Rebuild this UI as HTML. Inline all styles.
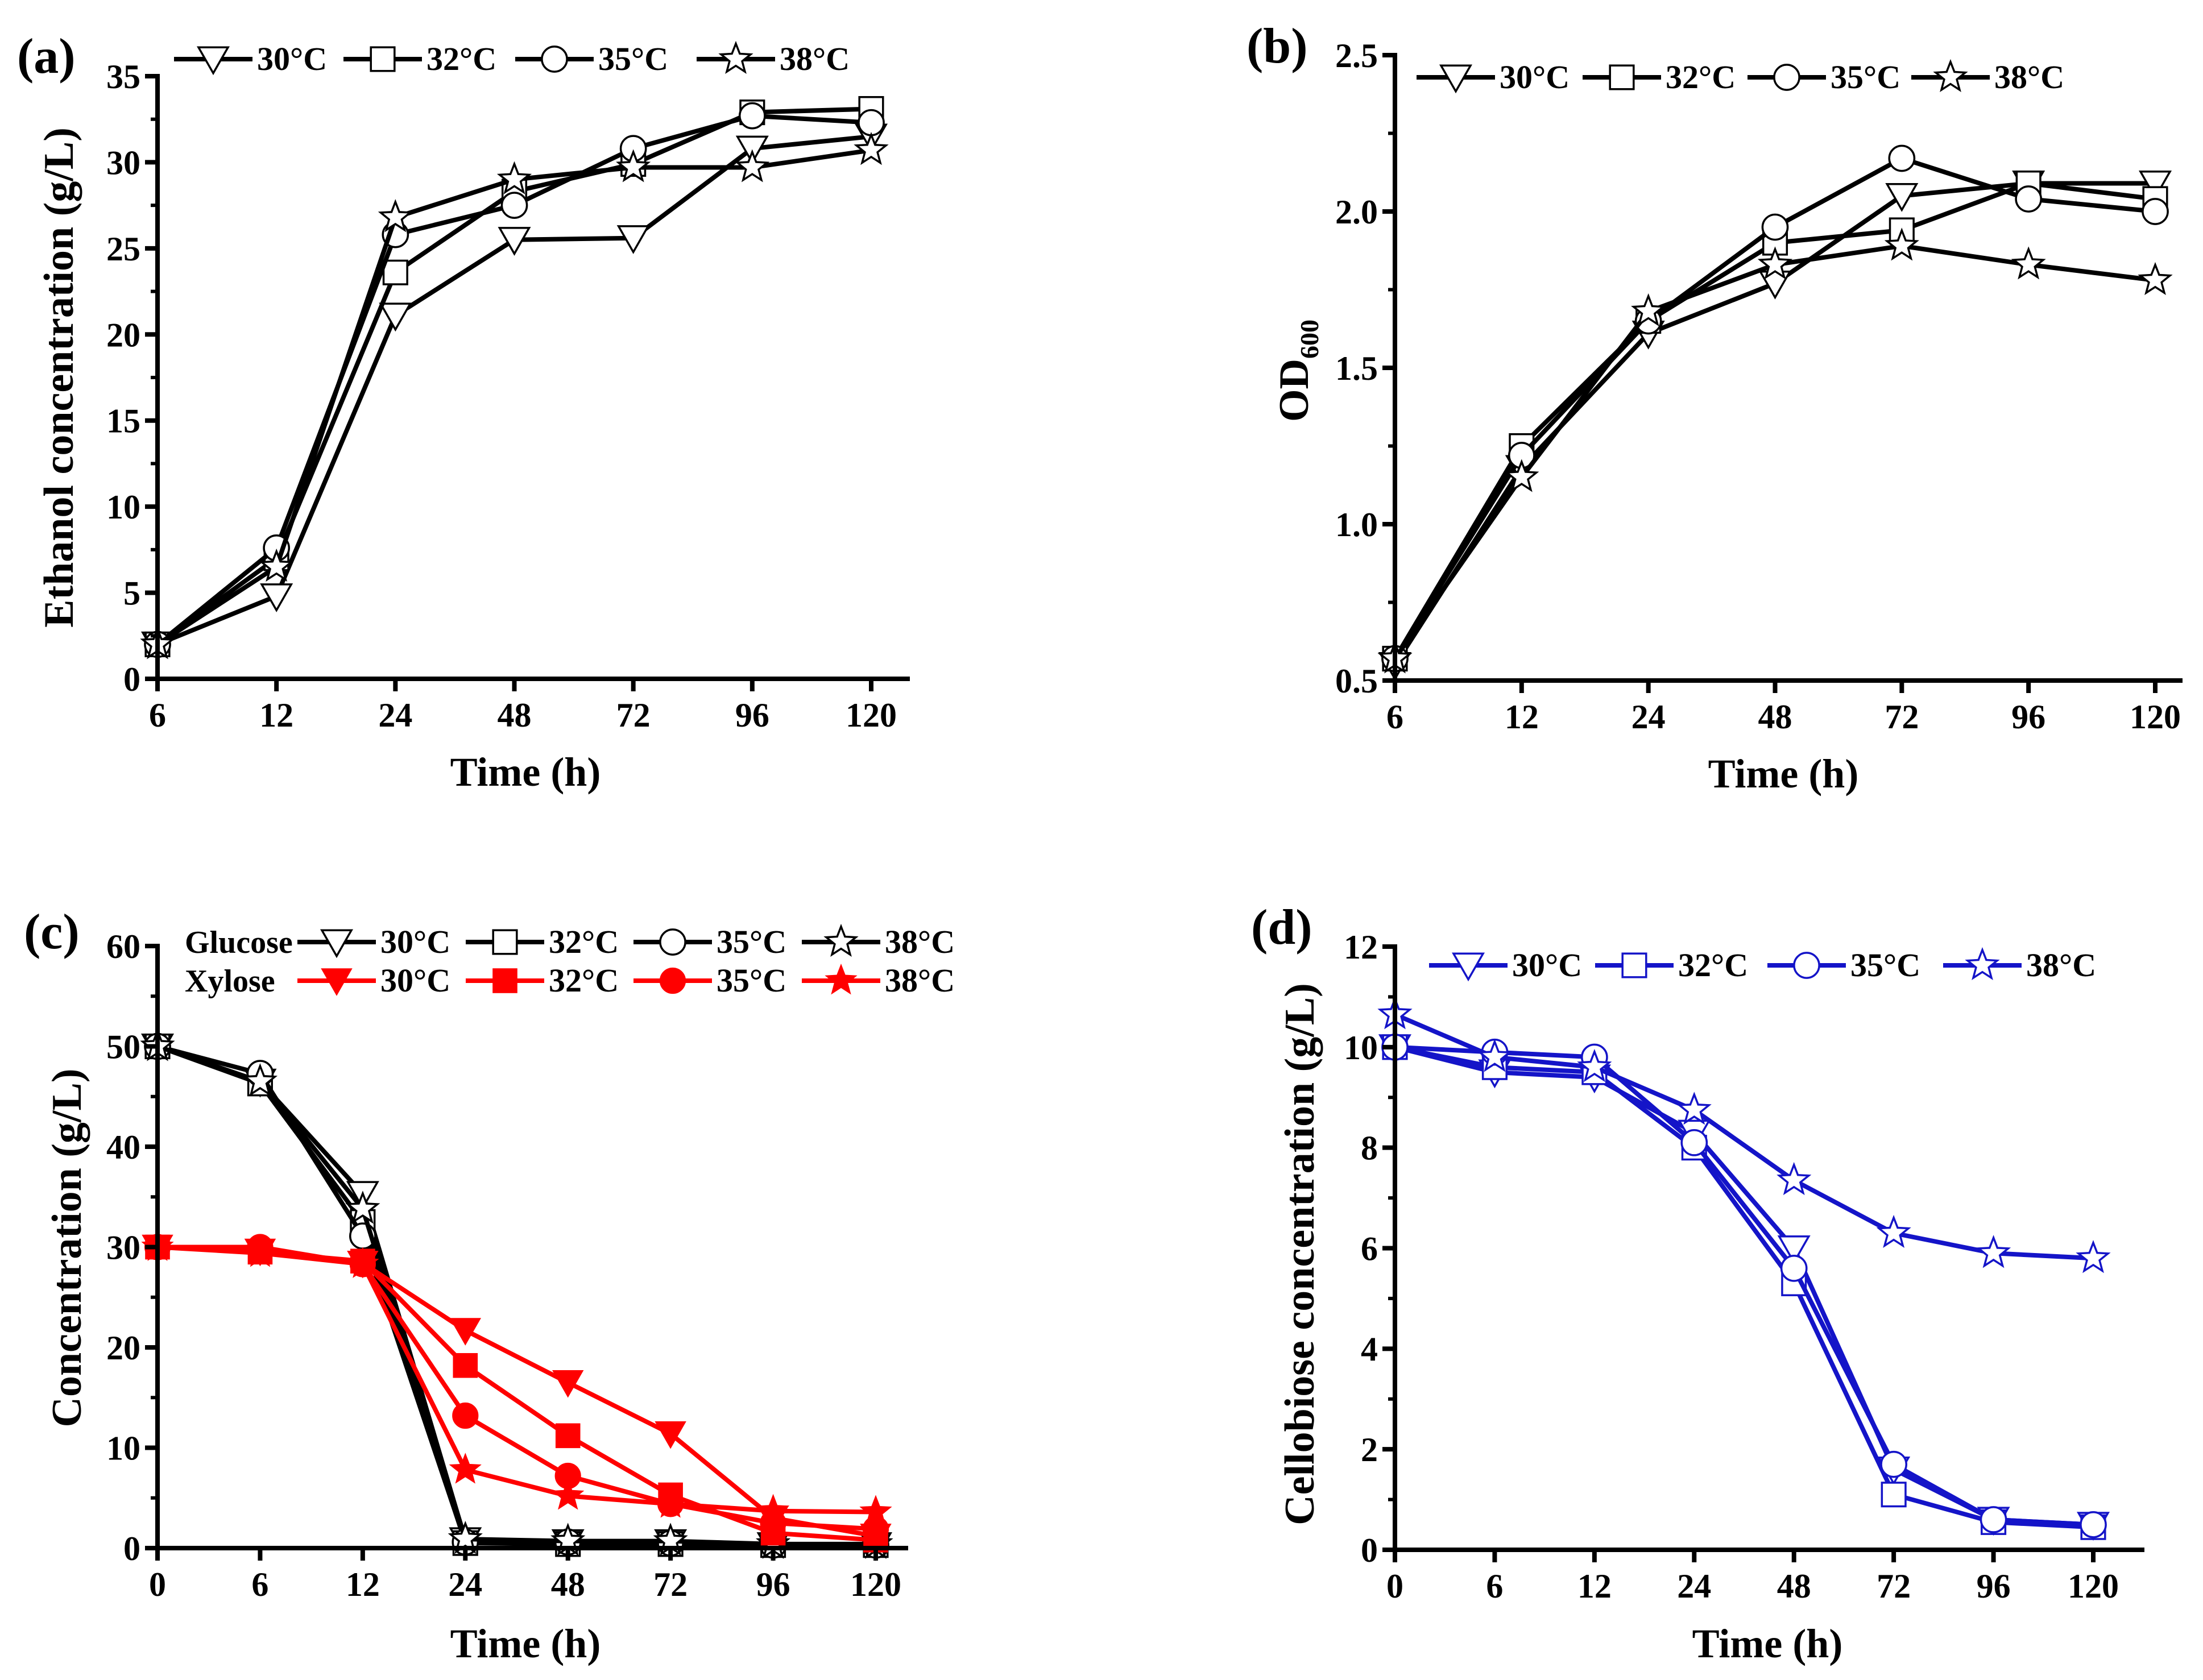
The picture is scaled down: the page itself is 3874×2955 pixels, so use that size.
<!DOCTYPE html>
<html><head><meta charset="utf-8">
<style>
html,body{margin:0;padding:0;background:#fff;}
svg{display:block;}
text{font-family:"Liberation Serif",serif;font-weight:bold;}
</style></head>
<body>
<svg id="fig" width="3874" height="2955" viewBox="0 0 3874 2955" xmlns="http://www.w3.org/2000/svg"></svg>
<script>
// ---------- data ----------
const catsA = ["6","12","24","48","72","96","120"];
const catsC = ["0","6","12","24","48","72","96","120"];
const tempLabels = ["30°C","32°C","35°C","38°C"];
const markerKinds = ["tri","sq","circ","star"];

const ethanol30 = [2.0, 4.8, 21.1, 25.5, 25.6, 30.8, 31.5];
const ethanol32 = [2.0, 7.0, 23.6, 28.3, 29.9, 32.9, 33.1];
const ethanol35 = [2.0, 7.6, 25.8, 27.5, 30.8, 32.7, 32.3];
const ethanol38 = [2.0, 6.5, 26.8, 29.0, 29.7, 29.7, 30.7];
const ticksA = [0,5,10,15,20,25,30,35];

const od30 = [0.55, 1.18, 1.61, 1.77, 2.05, 2.09, 2.09];
const od32 = [0.57, 1.25, 1.65, 1.90, 1.94, 2.09, 2.04];
const od35 = [0.57, 1.22, 1.65, 1.95, 2.17, 2.04, 2.00];
const od38 = [0.57, 1.15, 1.68, 1.83, 1.89, 1.83, 1.78];
const ticksB = ["0.5","1.0","1.5","2.0","2.5"];

const glu30 = [50, 46.5, 35.3, 0.8, 0.6, 0.6, 0.3, 0.3];
const glu32 = [50, 46.3, 32.5, 0.5, 0.4, 0.4, 0.3, 0.3];
const glu35 = [50, 47.3, 31.1, 0.6, 0.6, 0.5, 0.3, 0.3];
const glu38 = [50, 46.5, 33.8, 0.9, 0.7, 0.7, 0.4, 0.4];
const xyl30 = [30, 29.6, 28.4, 21.7, 16.5, 11.4, 3.0, 1.2];
const xyl32 = [30, 29.5, 28.6, 18.2, 11.2, 5.3, 1.5, 0.8];
const xyl35 = [30, 30.0, 28.3, 13.2, 7.2, 4.4, 2.5, 1.9];
const xyl38 = [30, 29.4, 28.3, 7.8, 5.2, 4.4, 3.7, 3.6];
const ticksC = [0,10,20,30,40,50,60];

const cel30 = [10.0, 9.5, 9.4, 8.3, 6.0, 1.6, 0.6, 0.5];
const cel32 = [10.0, 9.6, 9.5, 8.0, 5.3, 1.1, 0.55, 0.45];
const cel35 = [10.0, 9.9, 9.8, 8.1, 5.6, 1.7, 0.6, 0.5];
const cel38 = [10.65, 9.8, 9.6, 8.75, 7.35, 6.3, 5.9, 5.8];
const ticksD = [0,2,4,6,8,10,12];

// ---------- drawing ----------
const NS="http://www.w3.org/2000/svg";
const svg=document.getElementById('fig');
function mk(tag,attrs,parent){const e=document.createElementNS(NS,tag);for(const k in attrs)e.setAttribute(k,attrs[k]);(parent||svg).appendChild(e);return e;}

function marker(g,kind,x,y,color,filled,r){
  const fill=filled?color:'#fff';
  const sw=filled?2:3.5;
  let e;
  if(kind==='tri'){
    e=mk('polygon',{points:`${x-r},${y-r*0.8} ${x+r},${y-r*0.8} ${x},${y+r*0.95}`,fill:fill,stroke:color,'stroke-width':sw},g);
  }else if(kind==='sq'){
    e=mk('rect',{x:x-r*0.8,y:y-r*0.8,width:r*1.6,height:r*1.6,fill:fill,stroke:color,'stroke-width':sw},g);
  }else if(kind==='circ'){
    e=mk('circle',{cx:x,cy:y,r:r*0.85,fill:fill,stroke:color,'stroke-width':sw},g);
  }else{
    let p=[];for(let i=0;i<10;i++){const a=-Math.PI/2+i*Math.PI/5;const rr=i%2?r*0.45:r*1.05;p.push((x+rr*Math.cos(a)).toFixed(1)+','+(y+rr*Math.sin(a)).toFixed(1));}
    e=mk('polygon',{points:p.join(' '),fill:fill,stroke:color,'stroke-width':sw},g);
  }
  return e;
}

function panel(o){
  const g=mk('g',{});
  
  
  const n=o.cats.length;
  const xs=i=>o.x0+(o.x1-o.x0)*i/(n-1);
  const ys=v=>o.yb-(v-o.ymin)/(o.ymax-o.ymin)*(o.yb-o.yt);
  o.series.forEach((s,si)=>{
    const sg=mk('g',{},g);
    
    
    const pts=s.vals.map((v,i)=>xs(i).toFixed(1)+','+ys(v).toFixed(1)).join(' ');
    const pl=mk('polyline',{points:pts,fill:'none',stroke:s.color,'stroke-width':8,'stroke-linejoin':'round'},sg);
    
    
    s.vals.forEach((v,i)=>{
      const m=marker(sg,s.kind,xs(i),ys(v),s.color,s.filled,26);
      
      
    });
  });
  const ax=mk('g',{},g);
  
  
  mk('line',{x1:o.x0,y1:o.yb+4,x2:o.x0,y2:o.yt-4,stroke:'#000','stroke-width':8},ax);
  mk('line',{x1:o.x0-22,y1:o.yb,x2:o.xr,y2:o.yb,stroke:'#000','stroke-width':8},ax);
  o.cats.forEach((c,i)=>{
    mk('line',{x1:xs(i),y1:o.yb,x2:xs(i),y2:o.yb+22,stroke:'#000','stroke-width':8},ax);
    const t=mk('text',{x:xs(i),y:o.yb+84,'font-size':60,'text-anchor':'middle'},ax);
    t.textContent=c;
    
    
  });
  o.yticks.forEach((tv,i)=>{
    const v=parseFloat(tv);const y=ys(v);
    mk('line',{x1:o.x0-22,y1:y,x2:o.x0,y2:y,stroke:'#000','stroke-width':8},ax);
    if(i<o.yticks.length-1){const ym=ys(v+(parseFloat(o.yticks[1])-parseFloat(o.yticks[0]))/2);
      mk('line',{x1:o.x0-12,y1:ym,x2:o.x0,y2:ym,stroke:'#000','stroke-width':6},ax);}
    const t=mk('text',{x:o.x0-30,y:y+21,'font-size':60,'text-anchor':'end'},ax);
    t.textContent=tv;
    
    
  });
  const xt=mk('text',{x:o.xtX,y:o.xtY,'font-size':72,'text-anchor':'middle'},g);
  xt.textContent='Time (h)';
  
  
  const yt=mk('text',{x:0,y:0,'font-size':74,'text-anchor':'middle',transform:`translate(${o.ytX},${o.ytY}) rotate(-90)`},g);
  yt.innerHTML=o.ytitle;
  
  
  const pl=mk('text',{x:o.plX,y:o.plY,'font-size':88},g);
  pl.textContent=o.plabel;
  
  
  o.legend.forEach(L=>{
    const lg=mk('g',{},g);
    
    
    mk('line',{x1:L.l0,y1:L.y,x2:L.l1,y2:L.y,stroke:L.color,'stroke-width':8},lg);
    marker(lg,L.kind,(L.l0+L.l1)/2,L.y,L.color,L.filled,26);
    const t=mk('text',{x:L.l1+8,y:L.y+19,'font-size':58},lg);
    t.textContent=L.text;
  });
  if(o.extra)o.extra.forEach(E=>{const t=mk('text',{x:E.x,y:E.y,'font-size':56},g);t.textContent=E.t;
    });
}

function legend4(y,starts,color,filled){
  return starts.map((l0,i)=>({l0:l0,l1:l0+138,y:y,color:color,filled:filled,kind:markerKinds[i],text:tempLabels[i]}));
}

const K='#000',R='#ff0000',B='#1414c8';
panel({name:'panel-a-ethanol',cats:catsA,x0:277,x1:1532,xr:1600,yb:1194,yt:134,ymin:0,ymax:35,
  yticks:ticksA.map(String),
  series:[ethanol30,ethanol32,ethanol35,ethanol38].map((v,i)=>({name:'ethanol-'+tempLabels[i].slice(0,2)+'c',vals:v,color:K,filled:false,kind:markerKinds[i]})),
  xtX:924,xtY:1382,ytX:128,ytY:664,ytitle:'Ethanol concentration (g/L)',plX:30,plY:128,plabel:'(a)',
  legend:legend4(104,[306,604,906,1225],K,false)});

panel({name:'panel-b-od600',cats:catsA,x0:2453,x1:3790,xr:3838,yb:1197,yt:97,ymin:0.5,ymax:2.5,
  yticks:ticksB,
  series:[od30,od32,od35,od38].map((v,i)=>({name:'od-'+tempLabels[i].slice(0,2)+'c',vals:v,color:K,filled:false,kind:markerKinds[i]})),
  xtX:3136,xtY:1385,ytX:2300,ytY:652,ytitle:'OD<tspan font-size="46" dy="18">600</tspan>',plX:2192,plY:110,plabel:'(b)',
  legend:legend4(136,[2491,2783,3073,3361],K,false)});

panel({name:'panel-c-sugars',cats:catsC,x0:277,x1:1540,xr:1597,yb:2723,yt:1664,ymin:0,ymax:60,
  yticks:ticksC.map(String),
  series:[glu30,glu32,glu35,glu38].map((v,i)=>({name:'glucose-'+tempLabels[i].slice(0,2)+'c',vals:v,color:K,filled:false,kind:markerKinds[i]}))
    .concat([xyl30,xyl32,xyl35,xyl38].map((v,i)=>({name:'xylose-'+tempLabels[i].slice(0,2)+'c',vals:v,color:R,filled:true,kind:markerKinds[i]}))),
  xtX:924,xtY:2915,ytX:142,ytY:2195,ytitle:'Concentration (g/L)',plX:42,plY:1668,plabel:'(c)',
  legend:legend4(1657,[523,819,1114,1410],K,false).concat(legend4(1725,[523,819,1114,1410],R,true)),
  extra:[{x:325,y:1676,t:'Glucose'},{x:325,y:1744,t:'Xylose'}]});

panel({name:'panel-d-cellobiose',cats:catsC,x0:2453,x1:3681,xr:3771,yb:2726,yt:1665,ymin:0,ymax:12,
  yticks:ticksD.map(String),
  series:[cel30,cel32,cel35,cel38].map((v,i)=>({name:'cellobiose-'+tempLabels[i].slice(0,2)+'c',vals:v,color:B,filled:false,kind:markerKinds[i]})),
  xtX:3108,xtY:2915,ytX:2310,ytY:2206,ytitle:'Cellobiose concentration (g/L)',plX:2200,plY:1660,plabel:'(d)',
  legend:legend4(1698,[2513,2805,3108,3417],B,false)});
</script>
</body></html>
